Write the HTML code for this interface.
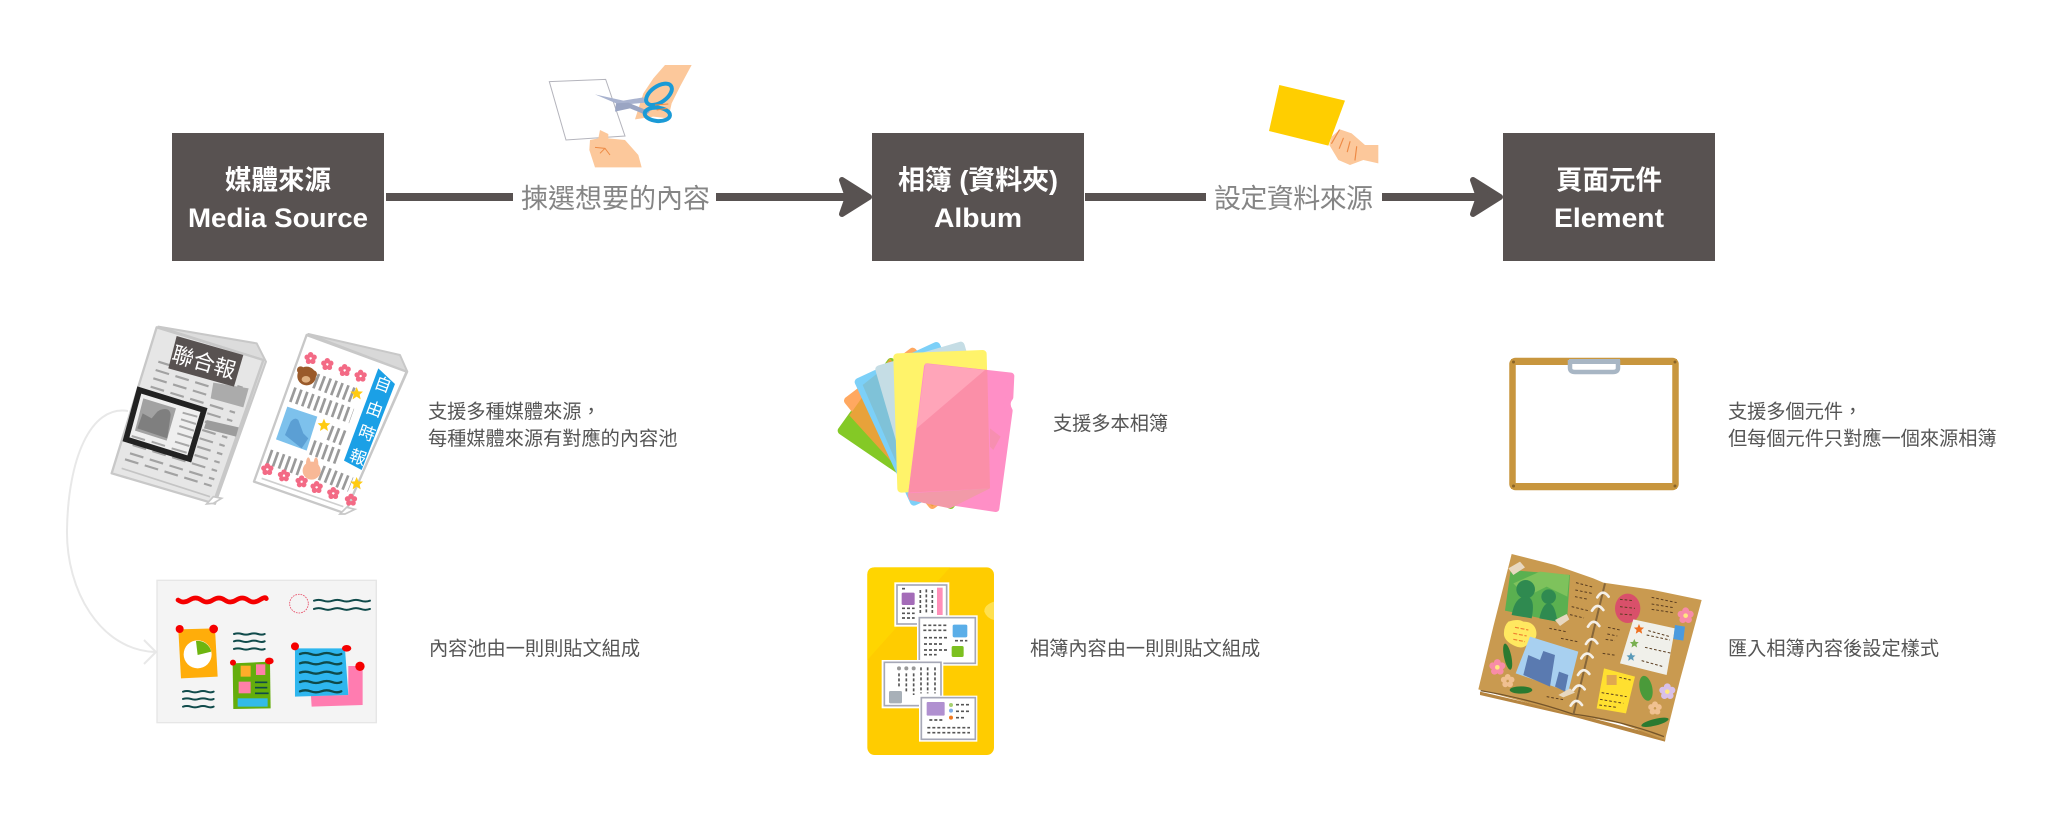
<!DOCTYPE html>
<html lang="zh-Hant"><head><meta charset="utf-8"><title>Media Source, Album, Element</title>
<style>
html,body{margin:0;padding:0;background:#fff;width:2048px;height:816px;overflow:hidden}
svg{display:block}
text{font-family:"Liberation Sans","Noto Sans CJK TC",sans-serif}
.h{font-size:27px;font-weight:700;fill:#fff;text-anchor:middle}
.l{font-size:27px;fill:#858585;font-family:"Noto Sans CJK TC",sans-serif}
.b{font-size:19.2px;fill:#555;font-family:"Noto Sans CJK TC",sans-serif}
.w{fill:none;stroke:#0f4a4a;stroke-width:6;stroke-linecap:round}
.d{fill:none;stroke:#555;stroke-width:5;stroke-dasharray:9 6}
.c{fill:#fff}
.i{fill:none;stroke:#a6a8b6;stroke-width:5}
.dd{fill:none;stroke:#5a3d20;stroke-width:3;stroke-dasharray:8 6}
</style></head><body>
<svg width="2048" height="816" viewBox="0 0 2048 816" xmlns="http://www.w3.org/2000/svg">
<defs>
<g id="fl"><circle cx="0" cy="-11" r="8"/><circle cx="10.500" cy="-3.400" r="8"/><circle cx="6.500" cy="9" r="8"/><circle cx="-6.500" cy="9" r="8"/><circle cx="-10.500" cy="-3.400" r="8"/></g>
<path id="st" d="M0,-19 L5.500,-6 L19,-5 L9,4 L12,18 L0,10 L-12,18 L-9,4 L-19,-5 L-5.500,-6 Z"/>
</defs>
<rect width="2048" height="816" fill="#fff"/>

<!-- top boxes -->
<rect x="172" y="133" width="212" height="128" fill="#585251"/>
<rect x="872" y="133" width="212" height="128" fill="#585251"/>
<rect x="1503" y="133" width="212" height="128" fill="#585251"/>
<text class="h" x="278" y="189.500" textLength="106" lengthAdjust="spacingAndGlyphs">媒體來源</text>
<text class="h" x="278" y="227" textLength="180" lengthAdjust="spacingAndGlyphs">Media Source</text>
<text class="h" x="978" y="189.500" textLength="160" lengthAdjust="spacingAndGlyphs">相簿 (資料夾)</text>
<text class="h" x="978" y="227" textLength="88" lengthAdjust="spacingAndGlyphs">Album</text>
<text class="h" x="1609" y="189.500" textLength="106" lengthAdjust="spacingAndGlyphs">頁面元件</text>
<text class="h" x="1609" y="227" textLength="110" lengthAdjust="spacingAndGlyphs">Element</text>

<!-- arrows -->
<g fill="#585251">
<rect x="386" y="193" width="127" height="8"/>
<rect x="716" y="193" width="130" height="8"/>
<rect x="1085" y="193" width="121" height="8"/>
<rect x="1382" y="193" width="96" height="8"/>
</g>
<g fill="#585251" stroke="#585251" stroke-width="6" stroke-linejoin="round">
<path d="M842,180 L869,197 L842,214 L848,197 Z"/>
<path d="M1473,180 L1500,197 L1473,214 L1479,197 Z"/>
</g>
<text class="l" x="521" y="208" textLength="189">揀選想要的內容</text>
<text class="l" x="1214" y="208" textLength="159">設定資料來源</text>

<!-- scissors -->
<g transform="translate(540,60) scale(0.3333)">
<polygon points="28,65 197,58 255,228 78,240" fill="#fff" stroke="#b4b4bc" stroke-width="3"/>
<path d="M375,15 L455,15 L420,80 L395,130 L385,175 L340,170 L285,178 L310,100 L340,55 Z" fill="#fcc89b"/>
<polygon points="165,103 250,122 310,112 318,128 240,135" fill="#a9b3cf"/>
<polygon points="225,155 228,130 265,128 330,155 318,165 270,145" fill="#9aa5c3"/>
<ellipse cx="357" cy="103" rx="44" ry="24" transform="rotate(-35 357 103)" fill="none" stroke="#1a9ad6" stroke-width="12"/>
<ellipse cx="352" cy="163" rx="38" ry="20" transform="rotate(5 352 163)" fill="none" stroke="#1a9ad6" stroke-width="12"/>
<path d="M180,210 L205,222 L205,235 L255,240 L295,285 L305,322 L165,322 L148,270 L150,240 L175,235 Z" fill="#fcc89b"/>
<path d="M165,262 L195,265 L210,285 M195,265 L180,280" stroke="#ee8a44" stroke-width="3" fill="none"/>
<path d="M345,135 L385,132 M350,150 L380,145" stroke="#ee8a44" stroke-width="3" fill="none"/>
</g>

<!-- card hand -->
<g transform="translate(1260,80) scale(0.3333)">
<polygon points="58,15 255,62 205,197 27,153" fill="#ffce00"/>
<path d="M240,148 L275,160 L315,195 L355,195 L355,250 L310,240 L270,255 L235,240 L208,195 L215,170 Z" fill="#fcc89b"/>
<path d="M238,150 L215,190 M250,175 L238,205 M270,185 L262,215 M290,200 L285,240" stroke="#ee8a44" stroke-width="3.500" fill="none" stroke-linecap="round"/>
</g>

<!-- newspaper 1 -->
<g transform="translate(50,310) scale(0.3333)">
<polygon points="325,50 620,100 648,155 495,582 640,150" fill="#dcdcdc" stroke="#c8c8c8" stroke-width="6" stroke-linejoin="round"/>
<polygon points="320,52 640,150 490,580 185,490" fill="#e6e6e6" stroke="#c8c8c8" stroke-width="7" stroke-linejoin="round"/>
<path d="M470,582 L490,560 L515,565 L490,580 Z" fill="#fff" stroke="#c8c8c8" stroke-width="5"/>
<path d="M215,475 L480,560" stroke="#c4c4c4" stroke-width="5"/>
<g fill="none" stroke="#a2a2a2" stroke-width="6.500" stroke-dasharray="42 20">
<path d="M325,155 L578,233"/><path d="M317,180 L570,258"/><path d="M310,205 L563,283"/><path d="M302,230 L555,308"/><path d="M294,255 L547,333"/><path d="M287,280 L540,358"/><path d="M279,305 L532,383"/><path d="M271,330 L524,408"/><path d="M264,355 L517,433"/><path d="M256,380 L509,458"/><path d="M248,405 L501,483"/><path d="M240,430 L493,508"/><path d="M225,448 L485,528"/>
</g>
<polygon points="490,218 596,235 580,292 482,265" fill="#ababab"/>
<polygon points="470,330 566,352 558,380 462,355" fill="#9c9c9c"/>
<polygon points="380,78 580,135 552,230 355,175" fill="#585251"/>
<text x="0" y="0" transform="translate(362,152) rotate(16)" font-size="65" fill="#fff" style="font-family:'Noto Sans CJK TC',sans-serif">聯合報</text>
<polygon points="268,240 462,300 418,447 228,388" fill="#efefef" stroke="#222" stroke-width="17" stroke-linejoin="miter"/>
<polygon points="280,265 378,295 350,392 255,362" fill="#a2a2a2"/>
<path d="M262,355 L278,310 L305,325 L322,305 L330,300 Q360,290 362,315 L352,385 Z" fill="#7f7f7f"/>
<g stroke="#a8a8a8" stroke-width="6"><path d="M398,308 L442,320"/><path d="M393,328 L438,342"/><path d="M388,348 L432,362"/><path d="M382,370 L427,384"/><path d="M375,395 L418,408"/><path d="M245,378 L285,390"/><path d="M305,395 L345,408"/><path d="M365,415 L410,428"/></g>
</g>

<!-- newspaper 2 -->
<g transform="translate(50,310) scale(0.3333)">
<polygon points="775,72 1050,135 1072,185 885,610 1070,185" fill="#d8d8d8" stroke="#c8c8c8" stroke-width="6" stroke-linejoin="round"/>
<polygon points="770,75 1070,185 885,610 612,515" fill="#fff" stroke="#c8c8c8" stroke-width="7" stroke-linejoin="round"/>
<path d="M870,612 L890,592 L915,598 L885,612 Z" fill="#fff" stroke="#c8c8c8" stroke-width="5"/>
<path d="M635,505 L880,590" stroke="#cfcfcf" stroke-width="5"/>
<g fill="none" stroke="#9a9a9a" stroke-width="46" stroke-dasharray="8 11">
<path d="M795,212 L915,258"/><path d="M725,253 L905,318"/><path d="M838,368 L890,388"/><path d="M785,412 L868,442"/><path d="M655,440 L755,476"/><path d="M812,488 L902,524"/>
</g>
<polygon points="712,290 802,320 770,422 678,388" fill="#7dc1ec"/>
<path d="M705,375 L722,335 Q735,320 745,330 L760,370 L775,385 L755,415 Z" fill="#5b9fd4"/>
<polygon points="985,175 1035,222 935,480 882,452" fill="#1ba0e6"/>
<g font-size="50" fill="#fff" text-anchor="middle" style="font-family:'Noto Sans CJK TC',sans-serif">
<text transform="translate(993,240) rotate(20)">自</text><text transform="translate(968,314) rotate(20)">由</text><text transform="translate(945,386) rotate(20)">時</text><text transform="translate(918,458) rotate(20)">報</text>
</g>
<g fill="#f36a85">
<use href="#fl" transform="translate(782,145)"/><use href="#fl" transform="translate(832,163)"/><use href="#fl" transform="translate(884,181)"/><use href="#fl" transform="translate(932,198)"/>
<use href="#fl" transform="translate(652,478)"/><use href="#fl" transform="translate(702,497)"/><use href="#fl" transform="translate(755,515)"/><use href="#fl" transform="translate(800,532)"/><use href="#fl" transform="translate(850,550)"/><use href="#fl" transform="translate(903,570)"/>
</g>
<g fill="#ffcb12"><use href="#st" transform="translate(920,250)"/><use href="#st" transform="translate(822,345)"/><use href="#st" transform="translate(920,520)"/></g>
<circle cx="752" cy="180" r="11" fill="#9a5a2a"/><circle cx="790" cy="192" r="11" fill="#9a5a2a"/><circle cx="770" cy="198" r="28" fill="#9a5a2a"/><ellipse cx="768" cy="208" rx="13" ry="10" fill="#e0b080"/>
<ellipse cx="775" cy="462" rx="7" ry="20" fill="#f8b896"/><ellipse cx="798" cy="462" rx="7" ry="20" fill="#f8b896"/><circle cx="785" cy="482" r="27" fill="#f8b896"/>
</g>

<!-- connector -->
<path d="M128,411 C90,405 68,460 67,530 C66,590 100,650 155,652" fill="none" stroke="#e8e8e8" stroke-width="2"/>
<path d="M144,640 L156,652 L144,664" fill="none" stroke="#e8e8e8" stroke-width="2"/>

<!-- board -->
<g transform="translate(50,530) scale(0.3333)">
<rect x="321" y="151" width="658" height="427" fill="#f4f4f4" stroke="#e6e6e6" stroke-width="4"/>
<path d="M384,210 q17,12 35,0 t35,0 t35,0 t35,0 t35,0 t35,0 t35,0 t20,-4" fill="none" stroke="#f50000" stroke-width="14" stroke-linecap="round"/>
<circle cx="747" cy="221" r="28" fill="none" stroke="#e8506a" stroke-width="2.500" stroke-dasharray="5 3"/>
<path class="w" d="M792,212 q14,-5 28,0 t28,0 t28,0 t28,0 t28,0 t28,0"/>
<path class="w" d="M792,237 q14,-5 28,0 t28,0 t28,0 t28,0 t28,0 t28,0"/>
<polygon points="385,298 495,295 503,440 393,445" fill="#ffad0a"/>
<circle cx="389" cy="297" r="12" fill="#f50000"/><circle cx="491" cy="297" r="13" fill="#f50000"/>
<circle cx="443" cy="373" r="42" fill="#fff"/>
<path d="M443,375 L438,333 A42,42 0 0 1 484,365 Z" fill="#6eb510"/>
<g class="w"><path d="M552,312 q12,-4 24,0 t24,0 t24,0 t20,0"/><path d="M552,334 q12,-4 24,0 t24,0 t24,0 t20,0"/><path d="M552,357 q12,-4 24,0 t24,0 t24,0 t20,0"/><path d="M399,485 q12,-4 24,0 t24,0 t24,0 t20,0"/><path d="M399,507 q12,-4 24,0 t24,0 t24,0 t20,0"/><path d="M399,530 q12,-4 24,0 t24,0 t24,0 t20,0"/></g>
<polygon points="548,400 660,395 662,535 550,537" fill="#64ad0c"/>
<circle cx="549" cy="398" r="9" fill="#f50000"/><ellipse cx="658" cy="393" rx="13" ry="10" fill="#f50000"/>
<rect x="572" y="407" width="30" height="33" fill="#ffad2a"/><rect x="618" y="403" width="28" height="32" fill="#ff80a8"/><rect x="566" y="455" width="36" height="35" fill="#ff80a8"/><rect x="563" y="505" width="90" height="25" fill="#33bbe8"/>
<g stroke="#0f4a4a" stroke-width="5"><path d="M615,457 H652"/><path d="M615,473 H652"/><path d="M615,490 H656"/></g>
<polygon points="895,408 938,408 938,525 785,530 783,498 895,495" fill="#ff7cb0"/>
<polygon points="735,355 885,355 895,495 735,500" fill="#2eb6ee"/>
<circle cx="735" cy="349" r="12" fill="#f50000"/><ellipse cx="890" cy="355" rx="14" ry="10" fill="#f50000"/><circle cx="930" cy="409" r="14" fill="#f50000"/>
<g class="w" style="stroke-width:7"><path d="M750,372 q16,-6 32,0 t32,0 t32,0 t28,0"/><path d="M750,400 q16,-6 32,0 t32,0 t32,0 t28,0"/><path d="M750,428 q16,-6 32,0 t32,0 t32,0 t28,0"/><path d="M750,456 q16,-6 32,0 t32,0 t32,0 t28,0"/><path d="M750,484 q16,-6 32,0 t32,0 t32,0 t28,0"/></g>
</g>

<!-- folders -->
<g transform="translate(810,320) scale(0.3333)" stroke-linejoin="round" stroke-width="24">
<polygon points="95,332 243,126 570,350 422,555" fill="#84c926" stroke="#84c926"/>
<polygon points="114,242 308,95 561,408 367,555" fill="#ffa860" stroke="#ffa860"/>
<polygon points="118,286 240,115 470,450 367,560" fill="#e8a23a"/>
<polygon points="146,186 379,78 545,437 312,545" fill="#7cd0f8" stroke="#7cd0f8"/>
<polygon points="158,195 240,130 330,400 290,500" fill="#7fc2d8"/>
<polygon points="208,148 452,77 563,457 319,528" fill="#c5dde5" stroke="#c5dde5"/>
<polygon points="262,112 518,102 528,493 274,506" fill="#fff36a" stroke="#fff36a"/>
<path d="M352,140 L603,168 L600,232 Q585,250 598,272 L558,566 L304,528 Z" fill="#ff8fc6" stroke="#ff8fc6" stroke-width="20"/>
<polygon points="346,131 532,150 540,505 295,518" fill="#fb8fa8"/>
<polygon points="346,131 525,150 320,325" fill="#ffa5b9"/>
<polygon points="292,520 540,505 450,550 420,565 298,540" fill="#f29aa8"/>
<path d="M540,325 L572,350 L550,390 L540,380 Z" fill="#f78fb0"/>
</g>

<!-- yellow folder -->
<g transform="translate(840,550) scale(0.3333)">
<rect x="82" y="52" width="380" height="563" rx="22" fill="#ffcc00"/>
<path d="M104,52 H330 L82,330 V74 Q82,52 104,52 Z" fill="#ffd500"/>
<path d="M462,155 Q432,165 433,185 Q440,205 462,210 Z" fill="#ffe04f"/>
<rect x="163" y="97" width="165" height="133" class="c"/><rect x="171" y="105" width="149" height="117" class="i"/>
<rect x="185" y="128" width="39" height="37" rx="4" fill="#a46cb8"/><rect x="291" y="113" width="17" height="82" fill="#ff8fb8"/>
<g class="d"><path d="M186,116 h12"/><path d="M186,175 H224"/><path d="M186,190 H224"/><path d="M186,204 H224"/><path d="M241,120 V190"/><path d="M259,118 V190"/><path d="M277,120 V190"/></g>
<rect x="231" y="196" width="182" height="151" class="c"/><rect x="238" y="203" width="168" height="137" class="i"/>
<rect x="338" y="224" width="44" height="38" rx="5" fill="#5aaee8"/><rect x="335" y="288" width="36" height="33" rx="5" fill="#7cc020"/>
<g class="d"><path d="M250,226 H325"/><path d="M250,241 H325"/><path d="M252,263 H325"/><path d="M252,282 H310"/><path d="M252,300 H322"/><path d="M252,314 H290"/><path d="M345,272 H382"/></g>
<rect x="125" y="330" width="185" height="145" class="c"/><rect x="133" y="337" width="170" height="130" class="i"/>
<circle cx="177" cy="355" r="6" fill="#999"/><circle cx="199" cy="355" r="6" fill="#999"/><circle cx="221" cy="355" r="6" fill="#999"/>
<rect x="147" y="423" width="39" height="37" rx="4" fill="#a8b0b8"/>
<g class="d"><path d="M177,370 V410"/><path d="M199,370 V430"/><path d="M221,370 V435"/><path d="M243,352 V430"/><path d="M263,352 V430"/><path d="M285,352 V430"/></g>
<rect x="237" y="437" width="175" height="138" class="c"/><rect x="244" y="443" width="162" height="125" class="i"/>
<rect x="260" y="456" width="54" height="41" rx="3" fill="#b090d0"/>
<circle cx="333" cy="465" r="6" fill="#a5d070"/><circle cx="333" cy="482" r="6" fill="#80aee8"/><circle cx="333" cy="503" r="6" fill="#f07a20"/>
<g class="d"><path d="M348,464 H392"/><path d="M348,484 H392"/><path d="M348,503 H378"/><path d="M268,510 H312"/><path d="M262,533 H390"/><path d="M262,548 H390"/></g>
</g>

<!-- clipboard frame -->
<rect x="1512.500" y="361" width="163" height="126" rx="3" fill="#fff" stroke="#c8963e" stroke-width="6.500"/>
<rect x="1511" y="359" width="166" height="6" fill="#c8963e"/>
<rect x="1511" y="483" width="166" height="6" fill="#c8963e"/>
<path d="M1570,360 V368 Q1570,372 1575,372 H1613 Q1618,372 1618,368 V360" fill="#fff" stroke="#a8b6c4" stroke-width="4.500"/>
<rect x="1569" y="359" width="51" height="5" fill="#a8b6c4"/>
<g fill="#8a6428"><circle cx="1513.500" cy="362" r="1.500"/><circle cx="1675" cy="362" r="1.500"/><circle cx="1513.500" cy="486" r="1.500"/><circle cx="1675" cy="486" r="1.500"/></g>

<!-- scrapbook -->
<g transform="translate(1460,540) scale(0.3333)">
<path d="M60,465 L340,530 L615,605 L617,592 L340,520 L60,455 Z" fill="#b68540"/>
<path d="M155,42 L285,75 L400,115 L430,128 L580,150 L725,180 L660,420 L615,600 L480,550 L340,525 L190,485 L55,448 L100,260 Z" fill="#c99a50"/>
<path d="M62,452 Q200,475 338,522 Q480,540 612,590" fill="none" stroke="#75552a" stroke-width="4"/>
<path d="M435,130 L340,525" stroke="#86663a" stroke-width="6"/>
<g fill="none" stroke="#f5f0e8" stroke-width="8" stroke-linecap="round">
<path d="M412,172 Q428,145 446,170"/><path d="M396,212 Q412,185 430,210"/><path d="M384,260 Q400,232 418,258"/><path d="M378,312 Q394,284 412,310"/><path d="M364,355 Q380,328 398,352"/><path d="M354,405 Q370,378 388,402"/><path d="M340,450 Q356,424 374,448"/><path d="M332,497 Q348,470 366,495"/>
</g>
<polygon points="152,90 330,105 322,228 290,245 135,212" fill="#5ab050"/>
<path d="M160,130 L240,95 L328,105 L322,170 L260,140 L200,170 Z" fill="#7ec25c"/>
<circle cx="197" cy="148" r="28" fill="#2f8a50"/><path d="M155,225 Q165,170 197,170 Q228,170 215,235 Z" fill="#2f8a50"/>
<circle cx="266" cy="170" r="22" fill="#2f8a50"/><path d="M238,235 Q248,190 266,190 Q285,190 292,245 Z" fill="#2f8a50"/>
<polygon points="145,85 180,65 195,82 160,105" fill="#e8d8c0"/><polygon points="285,240 320,222 328,238 300,258" fill="#e8d8c0"/>
<path d="M145,245 Q175,235 190,245 Q220,245 228,270 Q235,300 205,310 Q190,330 165,318 Q135,305 132,285 Q130,260 145,245 Z" fill="#ffe860"/>
<g fill="none" stroke="#ef7f30" stroke-width="3.500" stroke-dasharray="12 5"><path d="M165,262 L205,270"/><path d="M160,280 L200,288"/><path d="M160,298 L195,305"/></g>
<polygon points="210,290 355,335 325,455 167,400" fill="#a8d0f0"/>
<polygon points="190,405 205,345 240,360 250,333 285,345 270,440" fill="#5a7ab0"/>
<polygon points="285,440 297,395 325,405 315,455" fill="#5a7ab0"/>
<polygon points="295,465 330,445 345,458 310,472" fill="#e8d8c0"/>
<ellipse cx="503" cy="205" rx="38" ry="44" fill="#d9506a"/>
<polygon points="520,238 645,265 620,405 480,370" fill="#f0f0ea"/>
<g fill="#ef7020"><use href="#st" transform="translate(537,267) scale(.8)"/></g>
<g fill="#78b050"><use href="#st" transform="translate(523,310) scale(.7)"/></g>
<g fill="#5a9ab8"><use href="#st" transform="translate(513,350) scale(.7)"/></g>
<polygon points="645,255 675,260 670,302 640,297" fill="#4a9ade"/>
<polygon points="432,385 525,410 498,520 410,505" fill="#ffe030"/>
<rect x="440" y="405" width="30" height="30" fill="#e0a850"/>
<g fill="#f88ca8"><use href="#fl" transform="translate(677,227) scale(1.300)"/><use href="#fl" transform="translate(112,382) scale(1.300)"/></g>
<g fill="#d8c0e8"><use href="#fl" transform="translate(622,455) scale(1.300)"/></g>
<g fill="#f0c090"><use href="#fl" transform="translate(585,505) scale(1.100)"/><use href="#fl" transform="translate(143,423) scale(1.100)"/></g>
<g fill="#ffe880"><circle cx="677" cy="227" r="7"/><circle cx="112" cy="382" r="7"/><circle cx="622" cy="455" r="7"/></g>
<g fill="#2a7a30"><ellipse cx="143" cy="350" rx="11" ry="40" transform="rotate(-12 143 350)"/><ellipse cx="183" cy="450" rx="34" ry="11"/><ellipse cx="558" cy="445" rx="19" ry="38" transform="rotate(-12 558 445)" fill="#4a9a3a"/><ellipse cx="585" cy="547" rx="42" ry="10" transform="rotate(-14 585 547)"/></g>
<g class="dd">
<path d="M348,128 L402,142"/><path d="M346,150 L395,160"/><path d="M345,170 L385,178"/><path d="M335,200 L385,212"/><path d="M330,224 L372,234"/><path d="M268,265 L318,275"/><path d="M303,295 L352,305"/><path d="M444,262 L480,270"/><path d="M442,282 L472,288"/><path d="M437,298 L465,302"/><path d="M428,340 L468,346"/><path d="M260,470 L315,480"/>
<path d="M575,172 L650,188"/><path d="M575,192 L640,203"/><path d="M575,208 L640,218"/><path d="M480,178 L520,182"/><path d="M480,200 L525,205"/><path d="M480,222 L520,225"/>
<path d="M565,272 L630,290"/><path d="M560,285 L630,300"/><path d="M555,322 L635,340"/><path d="M545,362 L610,380"/>
<path d="M478,412 L512,420"/><path d="M425,458 L500,470"/><path d="M420,478 L490,490"/><path d="M418,495 L470,502"/>
</g>
</g>

<!-- body text -->
<text class="b" x="428" y="418">支援多種媒體來源，</text>
<text class="b" x="428" y="445">每種媒體來源有對應的內容池</text>
<text class="b" x="429" y="655">內容池由一則則貼文組成</text>
<text class="b" x="1053" y="430">支援多本相簿</text>
<text class="b" x="1030" y="655">相簿內容由一則則貼文組成</text>
<text class="b" x="1728" y="418">支援多個元件，</text>
<text class="b" x="1728" y="445">但每個元件只對應一個來源相簿</text>
<text class="b" x="1728" y="655">匯入相簿內容後設定樣式</text>
</svg>
</body></html>
